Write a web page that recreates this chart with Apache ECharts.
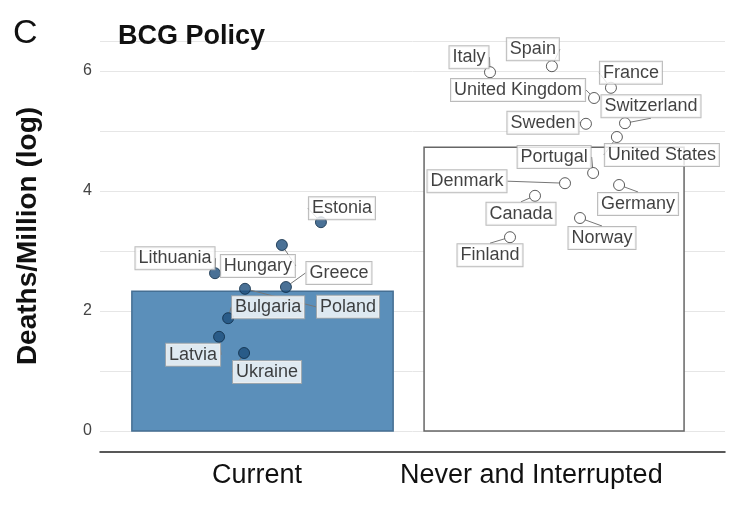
<!DOCTYPE html><html><head><meta charset="utf-8"><script src="https://cdn.jsdelivr.net/npm/echarts@6/dist/echarts.min.js"></script></head><body style="margin:0"><div id="c" style="width:740px;height:521px"></div><script>
const currentNames=['Estonia','Hungary','Lithuania','Greece','Poland','Bulgaria','Latvia','Ukraine'];
const currentX=[0.707,0.582,0.368,0.595,0.464,0.410,0.381,0.461];
const currentY=[3.48,3.10,2.63,2.40,2.37,1.88,1.57,1.30];
const neverNames=['Italy','Spain','France','United Kingdom','Switzerland','Sweden','United States','Portugal','Denmark','Germany','Canada','Norway','Finland'];
const neverX=[1.248,1.446,1.635,1.581,1.680,1.555,1.654,1.578,1.488,1.661,1.392,1.536,1.312];
const neverY=[5.98,6.08,5.72,5.55,5.13,5.12,4.90,4.30,4.13,4.10,3.92,3.55,3.23];
const barCats=['Current','Never and Interrupted'];
const barMeans=[2.33,4.73];
const barSpan=[[0.102,0.938],[1.037,1.869]];
const offs={Estonia:[21,-14],Hungary:[-24,21],Lithuania:[-40,-15],Greece:[53,-14],Poland:[103,18],Bulgaria:[40,-11],Latvia:[-26,18],Ukraine:[23,19],
Italy:[-21,-15],Spain:[-19,-17],France:[20,-15],'United Kingdom':[-76,-8],Switzerland:[26,-17],Sweden:[-43,-1],'United States':[45,18],Portugal:[-39,-16],Denmark:[-98,-2],Germany:[19,19],Canada:[-14,18],Norway:[22,20],Finland:[-20,18]};
const ch=echarts.init(document.getElementById('c'));
const lbl={show:true,position:'inside',formatter:p=>p.name,color:'#111',fontSize:18,fontFamily:'Liberation Sans',backgroundColor:'#ffffff',borderColor:'#aaa',borderWidth:1,padding:[2,3]};
const lay=p=>{const o=offs[p.text]||[0,0];return {dx:o[0],dy:o[1]};};
ch.setOption({animation:false,
grid:{left:100,right:15,top:41,bottom:90},
title:[{text:'C',left:8,top:12,textStyle:{fontSize:34,fontWeight:'normal',color:'#111',fontFamily:'Liberation Sans'}},
{text:'BCG Policy',left:113,top:18,textStyle:{fontSize:27,fontWeight:'bold',color:'#111',fontFamily:'Liberation Sans'}}],
graphic:barCats.map((c,i)=>({type:'text',left:i?400:212,top:462,style:{text:c,fontSize:27,fill:'#111',fontFamily:'Liberation Sans'}})),
xAxis:{type:'value',min:0,max:2,position:'bottom',offset:21,axisLine:{show:true,onZero:false,lineStyle:{color:'#222',width:1.5}},axisTick:{show:false},axisLabel:{show:false},splitLine:{show:false}},
yAxis:{type:'value',min:0,max:6.5,interval:1,name:'Deaths/Million (log)',nameLocation:'middle',nameGap:58,nameTextStyle:{fontSize:28,fontWeight:'bold',color:'#111',fontFamily:'Liberation Sans'},
axisLine:{show:false},axisTick:{show:false},axisLabel:{fontSize:16,color:'#444',formatter:v=>v%2===0?v:''},splitLine:{lineStyle:{color:'#e6e6e6'}}},
series:[{type:'custom',data:barMeans.map((m,i)=>[barSpan[i][0],barSpan[i][1],m]),renderItem:(params,api)=>{
const a=api.coord([api.value(0),api.value(2)]),b=api.coord([api.value(1),0]);
const i=params.dataIndex;return {type:'rect',shape:{x:a[0],y:a[1],width:b[0]-a[0],height:b[1]-a[1]},style:{fill:i?'#fff':'#5b8fba',stroke:i?'#666':'#456f93',lineWidth:1.5}};},z:1},
{type:'scatter',symbolSize:11,itemStyle:{color:'#1d4e7c',borderColor:'#0d2a45',borderWidth:1},data:currentNames.map((n,i)=>({name:n,value:[currentX[i],currentY[i]]})),label:lbl,labelLayout:lay,labelLine:{show:true,lineStyle:{color:'#777',width:1}},z:3},
{type:'scatter',symbolSize:11,itemStyle:{color:'#fff',borderColor:'#333',borderWidth:1},data:neverNames.map((n,i)=>({name:n,value:[neverX[i],neverY[i]]})),label:lbl,labelLayout:lay,labelLine:{show:true,lineStyle:{color:'#777',width:1}},z:3}]});
</script></body></html>
